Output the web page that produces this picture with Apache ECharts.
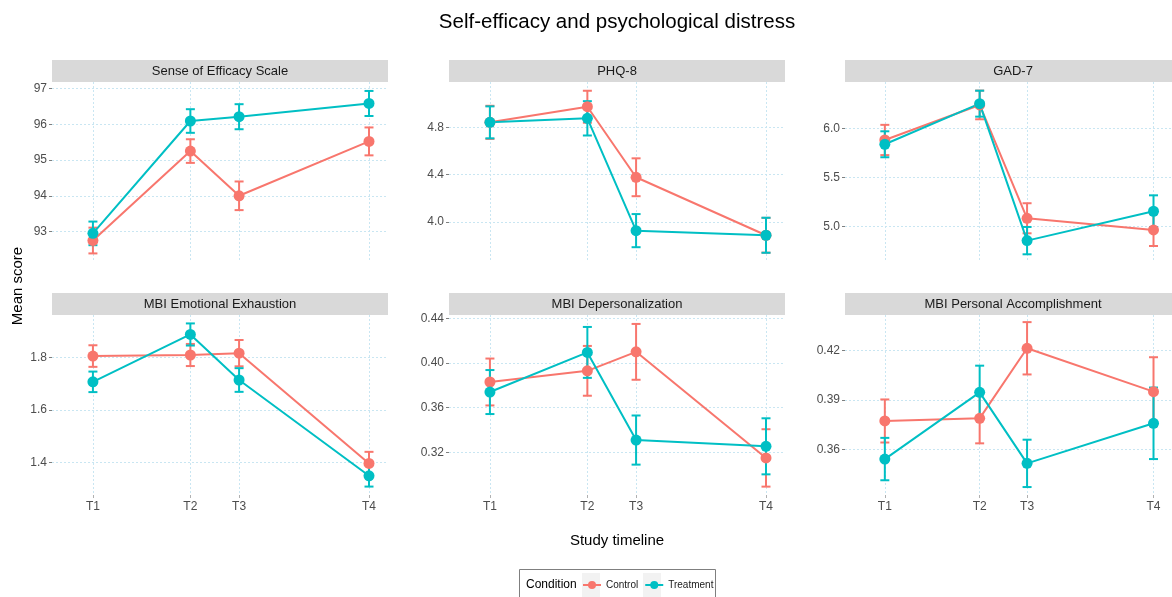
<!DOCTYPE html>
<html>
<head>
<meta charset="utf-8">
<script src="https://cdn.jsdelivr.net/npm/echarts@6/dist/echarts.min.js"></script>
<style>
  html, body { margin: 0; padding: 0; background: #ffffff; }
  #chart { width: 1172px; height: 597px; }
</style>
</head>
<body>
<div id="chart"></div>
<script>
// Study time points (months since baseline) and their labels
const timeLabels = ['T1', 'T2', 'T3', 'T4'];
const timeValues = [0, 6, 9, 17];

const measures = [
  'Sense of Efficacy Scale', 'PHQ-8', 'GAD-7',
  'MBI Emotional Exhaustion', 'MBI Depersonalization', 'MBI Personal Accomplishment'
];
const conditions = ['Control', 'Treatment'];

// Mean scores and error-bar half widths per measure
const efficacyControl      = [92.75, 95.25, 94.00, 95.52];
const efficacyControlErr   = [0.36, 0.33, 0.40, 0.39];
const efficacyTreatment    = [92.95, 96.09, 96.21, 96.58];
const efficacyTreatmentErr = [0.33, 0.33, 0.35, 0.35];

const phqControl      = [4.842, 4.974, 4.378, 3.888];
const phqControlErr   = [0.140, 0.135, 0.160, 0.147];
const phqTreatment    = [4.842, 4.876, 3.927, 3.888];
const phqTreatmentErr = [0.135, 0.145, 0.140, 0.148];

const gadControl      = [5.884, 6.243, 5.082, 4.962];
const gadControlErr   = [0.155, 0.147, 0.154, 0.164];
const gadTreatment    = [5.840, 6.256, 4.853, 5.154];
const gadTreatmentErr = [0.133, 0.133, 0.140, 0.163];

const exhaustionControl      = [1.805, 1.809, 1.816, 1.397];
const exhaustionControlErr   = [0.041, 0.042, 0.050, 0.044];
const exhaustionTreatment    = [1.707, 1.887, 1.714, 1.350];
const exhaustionTreatmentErr = [0.039, 0.042, 0.045, 0.041];

const depersControl      = [0.3830, 0.3930, 0.4100, 0.3150];
const depersControlErr   = [0.0210, 0.0223, 0.0250, 0.0257];
const depersTreatment    = [0.3740, 0.4095, 0.3310, 0.3254];
const depersTreatmentErr = [0.0197, 0.0228, 0.0220, 0.0251];

const accompControl      = [0.3773, 0.3789, 0.4212, 0.3950];
const accompControlErr   = [0.0130, 0.0151, 0.0158, 0.0208];
const accompTreatment    = [0.3543, 0.3946, 0.3517, 0.3759];
const accompTreatmentErr = [0.0128, 0.0161, 0.0143, 0.0216];

// Y tick values per panel
const yTicks = [
  [93, 94, 95, 96, 97],
  [4.0, 4.4, 4.8],
  [5.0, 5.5, 6.0],
  [1.4, 1.6, 1.8],
  [0.32, 0.36, 0.40, 0.44],
  [0.36, 0.39, 0.42]
];
const yDecimals = [0, 1, 1, 1, 2, 2];

// ---- assemble per-panel collections ----
const meanSets = [
  [efficacyControl, efficacyTreatment],
  [phqControl, phqTreatment],
  [gadControl, gadTreatment],
  [exhaustionControl, exhaustionTreatment],
  [depersControl, depersTreatment],
  [accompControl, accompTreatment]
];
const errSets = [
  [efficacyControlErr, efficacyTreatmentErr],
  [phqControlErr, phqTreatmentErr],
  [gadControlErr, gadTreatmentErr],
  [exhaustionControlErr, exhaustionTreatmentErr],
  [depersControlErr, depersTreatmentErr],
  [accompControlErr, accompTreatmentErr]
];

// Layout / scale settings
const colors = ['#F8766D', '#00BFC4'];
const FONT = "'Liberation Sans', Arial, sans-serif";
const colLeft = [52, 449, 845];
const rowTop = [82, 315];
const panelW = 336, panelH = 180, stripH = 22;
const xRange = [-2.52, 18.17];
const yRange = [
  [92.15, 97.18],
  [3.662, 5.183],
  [4.634, 6.478],
  [1.277, 1.961],
  [0.2818, 0.4430],
  [0.3326, 0.4413]
];
const gridColor = '#c9e6f2';

const grids = [], xAxes = [], yAxes = [], series = [], graphics = [];

measures.forEach((name, i) => {
  const col = i % 3, row = Math.floor(i / 3);
  const left = colLeft[col], top = rowTop[row];
  grids.push({ left: left, top: top, width: panelW, height: panelH, containLabel: false });

  xAxes.push({
    type: 'value', gridIndex: i, min: xRange[0], max: xRange[1],
    axisLine: { show: false, onZero: false },
    axisTick: { show: row === 1, length: 3, lineStyle: { color: '#b0b0b0' }, customValues: timeValues },
    axisLabel: {
      show: row === 1, customValues: timeValues, margin: 6,
      color: '#4d4d4d', fontSize: 12, fontFamily: FONT,
      formatter: v => timeLabels[timeValues.indexOf(v)] || ''
    },
    splitLine: { show: true, lineStyle: { color: gridColor, type: [2, 2], width: 1 } }
  });

  yAxes.push({
    type: 'value', gridIndex: i, min: yRange[i][0], max: yRange[i][1],
    axisLine: { show: false, onZero: false },
    axisTick: { show: true, length: 3, lineStyle: { color: '#7f7f7f' }, customValues: yTicks[i] },
    axisLabel: {
      customValues: yTicks[i], margin: 5,
      color: '#4d4d4d', fontSize: 12, fontFamily: FONT,
      formatter: v => Number(v).toFixed(yDecimals[i])
    },
    splitLine: { show: true, lineStyle: { color: gridColor, type: [2, 2], width: 1 } }
  });

  conditions.forEach((cond, c) => {
    series.push({
      type: 'line', name: cond, xAxisIndex: i, yAxisIndex: i, z: 3,
      data: timeValues.map((t, k) => [t, meanSets[i][c][k]]),
      symbol: 'circle', symbolSize: 11,
      lineStyle: { color: colors[c], width: 2 },
      itemStyle: { color: colors[c] },
      emphasis: { disabled: true },
      animation: false
    });
  });

  conditions.forEach((cond, c) => {
    series.push({
      type: 'custom', name: cond, xAxisIndex: i, yAxisIndex: i, z: 2,
      data: timeValues.map((t, k) => [t, meanSets[i][c][k] - errSets[i][c][k], meanSets[i][c][k] + errSets[i][c][k]]),
      encode: { x: 0, y: [1, 2] },
      renderItem: (params, api) => {
        const x = api.value(0);
        const p1 = api.coord([x, api.value(2)]);
        const p2 = api.coord([x, api.value(1)]);
        const cap = 4.5;
        const st = { stroke: colors[c], lineWidth: 2 };
        return {
          type: 'group',
          children: [
            { type: 'line', shape: { x1: p1[0], y1: p1[1], x2: p2[0], y2: p2[1] }, style: st },
            { type: 'line', shape: { x1: p1[0] - cap, y1: p1[1], x2: p1[0] + cap, y2: p1[1] }, style: st },
            { type: 'line', shape: { x1: p2[0] - cap, y1: p2[1], x2: p2[0] + cap, y2: p2[1] }, style: st }
          ]
        };
      },
      animation: false
    });
  });

  // facet strip
  graphics.push({
    type: 'rect', left: left, top: top - stripH, z: 1,
    shape: { width: panelW, height: stripH },
    style: { fill: '#d9d9d9' }
  });
  graphics.push({
    type: 'text', z: 2,
    x: left + panelW / 2, y: top - stripH / 2,
    style: { text: name, fill: '#1a1a1a', font: '13px ' + FONT, align: 'center', verticalAlign: 'middle' }
  });
});

// plot title, centred over the panel area
graphics.push({
  type: 'text', x: 617, y: 22,
  style: { text: 'Self-efficacy and psychological distress', fill: '#000', font: '20.5px ' + FONT, align: 'center', verticalAlign: 'middle' }
});

// axis titles
graphics.push({
  type: 'text', x: 617, y: 541,
  style: { text: 'Study timeline', fill: '#000', font: '15px ' + FONT, align: 'center', verticalAlign: 'middle' }
});
graphics.push({
  type: 'text', x: 18, y: 286, rotation: Math.PI / 2,
  style: { text: 'Mean score', fill: '#000', font: '15px ' + FONT, align: 'center', verticalAlign: 'middle' }
});

// legend frame, title and key backgrounds
graphics.push({
  type: 'rect', left: 519, top: 569, z: 0,
  shape: { width: 196, height: 40 },
  style: { fill: '#fff', stroke: '#7f7f7f', lineWidth: 1 }
});
graphics.push({
  type: 'text', x: 526, y: 585, z: 1,
  style: { text: 'Condition', fill: '#000', font: '12px ' + FONT, align: 'left', verticalAlign: 'middle' }
});
graphics.push({
  type: 'rect', left: 582, top: 573, z: 1,
  shape: { width: 18, height: 24 }, style: { fill: '#f2f2f2' }
});
graphics.push({
  type: 'rect', left: 643, top: 573, z: 1,
  shape: { width: 18, height: 24 }, style: { fill: '#f2f2f2' }
});

const option = {
  backgroundColor: '#ffffff',
  animation: false,
  legend: {
    data: conditions,
    left: 582, top: 580, z: 5, padding: 0,
    itemWidth: 18, itemHeight: 10, itemGap: 6,
    textStyle: { fontFamily: FONT, fontSize: 10, color: '#1a1a1a' },
    selectedMode: false
  },
  grid: grids,
  xAxis: xAxes,
  yAxis: yAxes,
  series: series,
  graphic: { elements: graphics }
};

const chart = echarts.init(document.getElementById('chart'), null, { renderer: 'canvas' });
chart.setOption(option);
</script>
</body>
</html>
